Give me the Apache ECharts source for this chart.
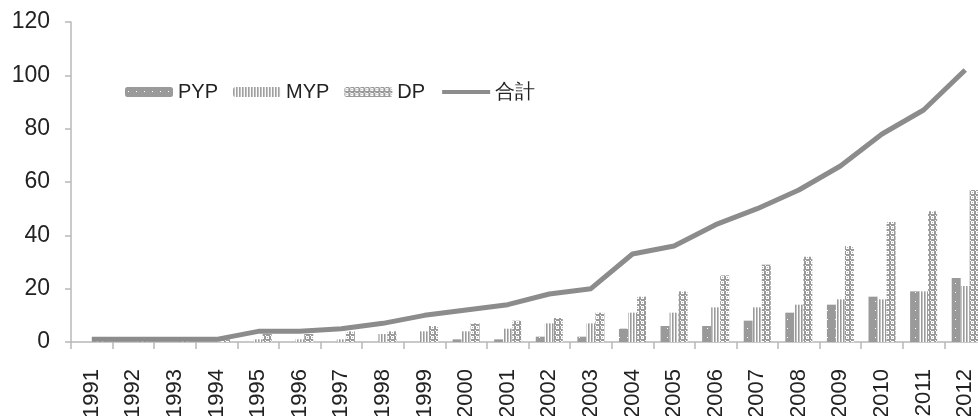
<!DOCTYPE html>
<html><head><meta charset="utf-8">
<script src="https://cdn.jsdelivr.net/npm/echarts@6/dist/echarts.min.js"></script>
<style>html,body{margin:0;padding:0;background:#fff}#c{width:978px;height:416px}</style>
</head><body><div id="c"></div>
<script>
const years = ['1991','1992','1993','1994','1995','1996','1997','1998','1999','2000','2001','2002','2003','2004','2005','2006','2007','2008','2009','2010','2011','2012'];
const pyp = [0,0,0,0,0,0,0,0,0,1,1,2,2,5,6,6,8,11,14,17,19,24];
const myp = [0,0,0,0,1,1,1,3,4,4,5,7,7,11,11,13,13,14,16,16,19,21];
const dp = [1,1,1,1,3,3,4,4,6,7,8,9,11,17,19,25,29,32,36,45,49,57];
const total = [1,1,1,1,4,4,5,7,10,12,14,18,20,33,36,44,50,57,66,78,87,102];
const yTicks = [0,20,40,60,80,100,120];

function pat(w,h,draw){const c=document.createElement('canvas');c.width=w;c.height=h;const g=c.getContext('2d');draw(g);return {image:c,repeat:'repeat'};}
const G='#9a9a9a';
const pypPat = pat(8,9,g=>{g.fillStyle=G;g.fillRect(0,0,8,9);g.fillStyle='#fff';g.fillRect(3,4,1,1);});
const mypPat = pat(3,4,g=>{g.fillStyle='#fff';g.fillRect(0,0,3,4);g.fillStyle=G;g.fillRect(0,0,1,4);g.fillStyle='#c4c4c4';g.fillRect(1,0,1,4);});
const dpPat = pat(5,5,g=>{g.fillStyle=G;g.fillRect(0,0,5,5);g.fillStyle='#fff';g.fillRect(1,1,3,3);g.fillRect(0,0,1,1);g.fillStyle='#b0b0b0';g.fillRect(2,2,1,1);});

const chart = echarts.init(document.getElementById('c'));
const font = 'Liberation Sans, Arial, Helvetica, sans-serif';
chart.setOption({
  animation:false,
  textStyle:{fontFamily:font},
  grid:{left:71,top:22,bottom:74,right:-8,containLabel:false,outerBoundsMode:'none'},
  legend:{left:120,top:77,itemWidth:48,itemHeight:10,itemGap:15,
    textStyle:{fontSize:20,color:'#222',fontFamily:font},
    data:['PYP','MYP','DP',{name:'合計',itemStyle:{opacity:0},lineStyle:{width:4,color:'#8c8c8c'}}]},
  xAxis:{type:'category',data:years,boundaryGap:true,
    axisLine:{lineStyle:{color:'#b8b8b8',width:1.5}},
    axisTick:{show:true,length:7,interval:0,lineStyle:{color:'#b8b8b8',width:1.5}},
    axisLabel:{rotate:90,fontSize:22,color:'#222',margin:27,interval:0}},
  yAxis:{type:'value',min:0,max:120,interval:20,
    axisLine:{show:true,lineStyle:{color:'#b8b8b8',width:1.5}},
    axisTick:{show:true,length:6,lineStyle:{color:'#b8b8b8',width:1.5}},
    splitLine:{show:false},
    axisLabel:{fontSize:23,color:'#222',margin:21}},
  series:[
    {name:'PYP',type:'bar',data:pyp,barGap:'0%',barCategoryGap:'35%',itemStyle:{color:pypPat}},
    {name:'MYP',type:'bar',data:myp,barGap:'0%',barCategoryGap:'35%',itemStyle:{color:mypPat}},
    {name:'DP',type:'bar',data:dp,barGap:'0%',barCategoryGap:'35%',itemStyle:{color:dpPat}},
    {name:'合計',type:'line',data:total,symbol:'none',z:5,lineStyle:{color:'#8c8c8c',width:5},itemStyle:{color:'#8c8c8c'}}
  ]
});
</script></body></html>
